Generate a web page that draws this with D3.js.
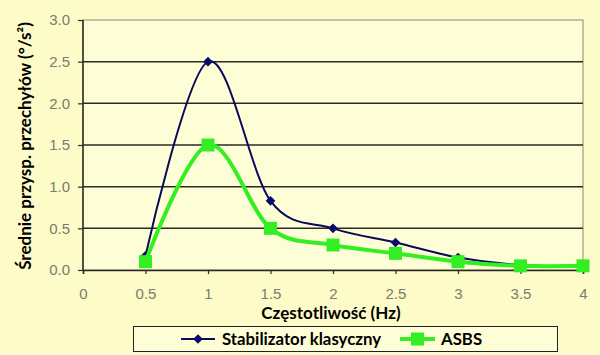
<!DOCTYPE html>
<html><head><meta charset="utf-8">
<script src="https://cdn.jsdelivr.net/npm/d3@7"></script>
<style>body{margin:0;background:#fdfcc8;}svg{display:block;}</style>
</head><body>
<svg id="c" width="600" height="355"></svg>
<script>
const freqs = [0.5, 1, 1.5, 2, 2.5, 3, 3.5, 4];
const classic = [0.17, 2.5, 0.83, 0.5, 0.33, 0.15, 0.06, 0.05];
const asbs = [0.1, 1.5, 0.5, 0.3, 0.2, 0.1, 0.05, 0.05];
const xTicks = [0, 0.5, 1, 1.5, 2, 2.5, 3, 3.5, 4];
const xTickLabels = ["0", "0.5", "1", "1.5", "2", "2.5", "3", "3.5", "4"];
const yTicks = [0, 0.5, 1, 1.5, 2, 2.5, 3];
const yTickLabels = ["0.0", "0.5", "1.0", "1.5", "2.0", "2.5", "3.0"];
const seriesNames = ["Stabilizator klasyczny", "ASBS"];
const xTitle = "Częstotliwość (Hz)";
const yTitle = "Średnie przysp. przechyłów (°/s²)";

const svg = d3.select("#c");
const L = 83, R = 583, T = 20, B = 270;
const x = d3.scaleLinear().domain([0, 4]).range([L, R]);
const y = d3.scaleLinear().domain([0, 3]).range([B, T]);

svg.append("rect").attr("width", 600).attr("height", 355).attr("fill", "#fdfcc8");
svg.append("rect").attr("x", L).attr("y", T).attr("width", R - L).attr("height", B - T)
  .attr("fill", "#fefed6").attr("stroke", "#8a8a7a").attr("stroke-width", 1);

// gridlines
svg.append("g").selectAll("line").data(yTicks.filter(d => d > 0 && d < 3)).join("line")
  .attr("x1", L).attr("x2", R).attr("y1", d => y(d)).attr("y2", d => y(d))
  .attr("stroke", "#2a2a22").attr("stroke-width", 1.5);

// y axis
const yAxis = d3.axisLeft(y).tickValues(yTicks).tickFormat((d, i) => yTickLabels[i]).tickSize(5).tickPadding(8);
const gy = svg.append("g").attr("transform", `translate(${L},0)`).call(yAxis);
// x axis
const xAxis = d3.axisBottom(x).tickValues(xTicks).tickFormat((d, i) => xTickLabels[i]).tickSize(4).tickPadding(14);
const gx = svg.append("g").attr("transform", `translate(0,${B})`).call(xAxis);
[gx, gy].forEach(g => {
  g.select(".domain").attr("stroke", "#2a2a22").attr("stroke-width", 1.5);
  g.selectAll(".tick line").attr("stroke", "#2a2a22").attr("stroke-width", 1.2);
  g.selectAll("text").attr("font-family", "Liberation Sans, Arial, sans-serif")
    .attr("font-size", 15).attr("fill", "#7a7a70");
});
gy.select(".domain").attr("d", `M0,${T}V${B}`);

const curve = d3.curveCatmullRom.alpha(0);
const line = d3.line().x(d => x(d[0])).y(d => y(d[1])).curve(curve);

const dClassic = freqs.map((f, i) => [f, classic[i]]);
const dAsbs = freqs.map((f, i) => [f, asbs[i]]);

svg.append("path").attr("d", line(dClassic)).attr("fill", "none")
  .attr("stroke", "#0a0a5a").attr("stroke-width", 2);
svg.append("g").selectAll("path").data(dClassic).join("path")
  .attr("d", d3.symbol(d3.symbolDiamond2, 60))
  .attr("transform", d => `translate(${x(d[0])},${y(d[1])})`)
  .attr("fill", "#0a0a6e");

svg.append("path").attr("d", line(dAsbs)).attr("fill", "none")
  .attr("stroke", "#33ee22").attr("stroke-width", 4);
svg.append("g").selectAll("rect").data(dAsbs).join("rect")
  .attr("x", d => x(d[0]) - 6.5).attr("y", d => y(d[1]) - 6.5)
  .attr("width", 13).attr("height", 13).attr("fill", "#33ee22");

// titles
svg.append("text").attr("x", 331).attr("y", 319).attr("text-anchor", "middle")
  .attr("font-family", "Lato, Open Sans, sans-serif").attr("font-weight", "bold")
  .attr("font-size", 17).attr("fill", "#000").text(xTitle);
svg.append("text").attr("transform", "translate(31,146) rotate(-90)").attr("text-anchor", "middle")
  .attr("font-family", "Lato, Open Sans, sans-serif").attr("font-weight", "bold")
  .attr("font-size", 17).attr("fill", "#000").text(yTitle);

// legend
const lg = svg.append("g");
lg.append("rect").attr("x", 133.5).attr("y", 326.5).attr("width", 424).attr("height", 25)
  .attr("fill", "#fefed6").attr("stroke", "#222").attr("stroke-width", 1);
const ly = 339;
lg.append("line").attr("x1", 181).attr("x2", 215).attr("y1", ly).attr("y2", ly)
  .attr("stroke", "#0a0a5a").attr("stroke-width", 2);
lg.append("path").attr("d", d3.symbol(d3.symbolDiamond2, 60)).attr("transform", `translate(198,${ly})`).attr("fill", "#0a0a6e");
lg.append("text").attr("x", 222).attr("y", ly + 6).attr("font-family", "Lato, Open Sans, sans-serif")
  .attr("font-weight", "bold").attr("font-size", 16.8).text(seriesNames[0]);
lg.append("line").attr("x1", 400).attr("x2", 435).attr("y1", ly).attr("y2", ly)
  .attr("stroke", "#33ee22").attr("stroke-width", 4);
lg.append("rect").attr("x", 411).attr("y", ly - 6.5).attr("width", 13).attr("height", 13).attr("fill", "#33ee22");
lg.append("text").attr("x", 441).attr("y", ly + 6).attr("font-family", "Lato, Open Sans, sans-serif")
  .attr("font-weight", "bold").attr("font-size", 16.8).text(seriesNames[1]);
</script>
</body></html>
